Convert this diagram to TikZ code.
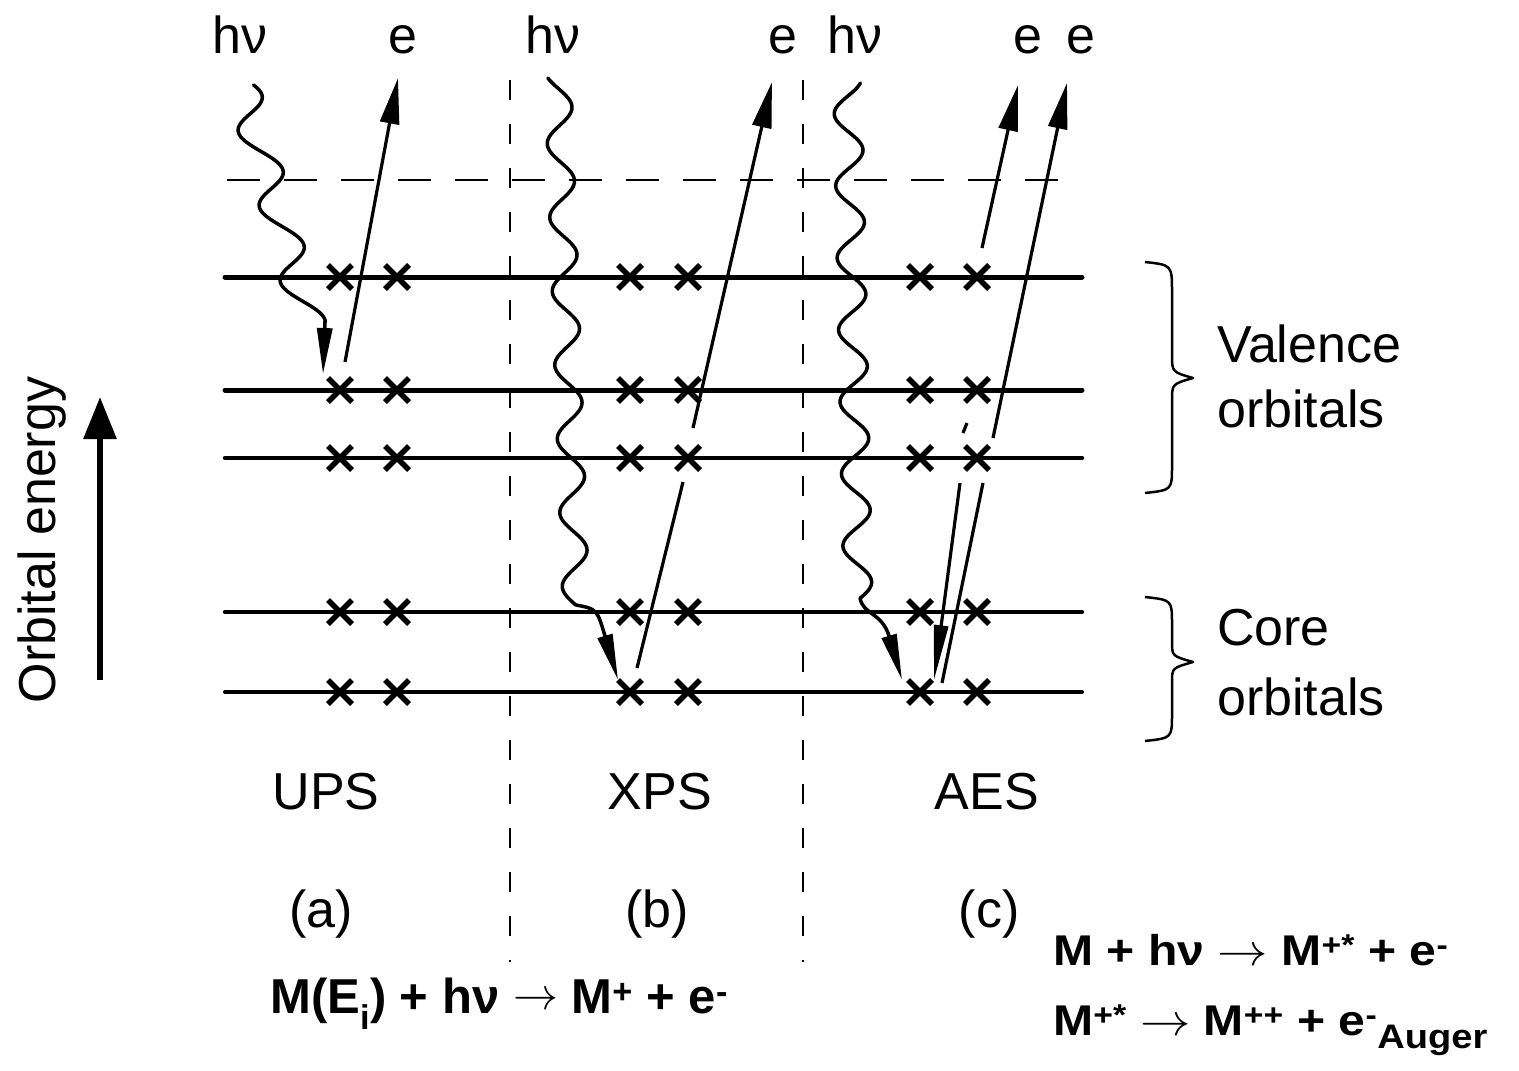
\documentclass[tikz,border=0pt]{standalone}
\usepackage{fontspec}
\setmainfont{Liberation Sans}
\usetikzlibrary{arrows.meta}
\newcommand{\myarrow}{{\fontsize{10}{12}\selectfont\scalebox{4.5}{$\rightarrow$}}}
\begin{document}
\begin{tikzpicture}[x=1pt,y=-1pt,
  lbl/.style={font=\fontsize{52}{62}\selectfont, inner sep=0pt, anchor=base},
  lblw/.style={font=\fontsize{52}{62}\selectfont, inner sep=0pt, anchor=base west},
  eqa/.style={font=\fontsize{49}{58}\selectfont\bfseries, inner sep=0pt, anchor=base west},
  eqb/.style={font=\fontsize{43}{50}\selectfont\bfseries, inner sep=0pt, anchor=base west},
  rowline/.style={line width=4.5pt, line cap=round},
  xmark/.style={line width=5.5pt},
  photon/.style={line width=3.5pt, line cap=round, line join=round},
  phtip/.style={photon, -{Triangle[length=46pt,width=15pt]}},
  elecline/.style={line width=3.2pt},
  elec/.style={line width=3.2pt, -{Triangle[length=46pt,width=19pt]}},
  downtip/.style={line width=3.2pt, -{Triangle[length=55pt,width=14pt]}},
  hdash/.style={line width=2pt, dash pattern=on 33pt off 24pt},
  vdash/.style={line width=2pt, dash pattern=on 20pt off 24pt},
  brace/.style={line width=2.5pt, line join=round}
]
\useasboundingbox (0,0) rectangle (1519,1071);

% orbital rows
\foreach \n/\y/\w in {1/277/5,2/390/5,3/458/4.5,4/612/4.5,5/692/4} {
  \coordinate (L\n) at (225,\y);
  \coordinate (R\n) at (1082,\y);
  \draw[rowline, line width=\w pt] (L\n) -- (R\n);
  \foreach \x in {340,397,630,688,920,977} {
    \draw[xmark] (\x-12,\y-12) -- (\x+12,\y+12) (\x-12,\y+12) -- (\x+12,\y-12);
  }
}

% vacuum level (dashed)
\coordinate (vacL) at (227,180);
\coordinate (vacR) at (1075,180);
\draw[hdash] (vacL) -- (vacR);

% panel separators
\coordinate (sep1t) at (510,80);  \coordinate (sep1b) at (510,962);
\coordinate (sep2t) at (803,80);  \coordinate (sep2b) at (803,962);
\draw[vdash] (sep1t) -- (sep1b);
\draw[vdash] (sep2t) -- (sep2b);

% ---------- UPS ----------
\draw[photon] plot[domain=85:322, samples=160] ({271+0.28*(\x-188)+17*cos(4.8*(\x-170))}, {\x});
\coordinate (upsW) at (325,322);
\coordinate (upsH) at (323,374);
\draw[phtip] (upsW) -- (upsH);
\coordinate (upsE0) at (345,362);
\coordinate (upsE1) at (398,78);
\draw[elec] (upsE0) -- (upsE1);

% ---------- XPS ----------
\draw[photon] plot[domain=78:605, samples=300] ({559+0.034*(\x-107)+13*cos(4.878*(\x-107))}, {\x});
\coordinate (xpsW) at (576,605);
\coordinate (xpsH) at (618,680);
\draw[phtip] (xpsW) .. controls (597,609) .. (xpsH);
\coordinate (xpsE0) at (637,668);
\coordinate (xpsEa) at (683,482);
\coordinate (xpsEb) at (693,428);
\coordinate (xpsE1) at (772,82);
\draw[elecline] (xpsE0) -- (xpsEa);
\draw[elec] (xpsEb) -- (xpsE1);

% ---------- AES ----------
\draw[photon] plot[domain=83:598, samples=300] ({849+0.02*(\x-150)+14*cos(5*(\x-150))}, {\x});
\coordinate (aesW) at (860,598);
\coordinate (aesH) at (902,680);
\draw[phtip] (aesW) .. controls (863,615) and (882,612) .. (aesH);
% Auger electron
\coordinate (augE0) at (982,248);
\coordinate (augE1) at (1018,85);
\draw[elec] (augE0) -- (augE1);
% core photoelectron
\coordinate (aesE0) at (942,683);
\coordinate (aesEa) at (983,483);
\coordinate (aesEb) at (993,438);
\coordinate (aesE1) at (1067,83);
\draw[elecline] (aesE0) -- (aesEa);
\draw[elec] (aesEb) -- (aesE1);
% valence electron falling into core hole
\coordinate (fallA) at (967,423);
\coordinate (fallB) at (963,433);
\coordinate (fallC) at (960,483);
\coordinate (fallD) at (934,680);
\draw[elecline] (fallA) -- (fallB);
\draw[downtip] (fallC) -- (fallD);

% ---------- top labels ----------
\node[lbl] (hv1) at (240,53) {hν};
\node[lbl] (e1) at (403,53) {e};
\node[lbl] (hv2) at (553,53) {hν};
\node[lbl] (e2) at (783,53) {e};
\node[lbl] (hv3) at (855,53) {hν};
\node[lbl] (e3) at (1028,53) {e};
\node[lbl] (e4) at (1081,53) {e};

% ---------- panel labels ----------
\node[lbl] (ups) at (326,809) {UPS};
\node[lbl] (xps) at (660,809) {XPS};
\node[lbl] (aes) at (987,809) {AES};
\node[lbl] (pa) at (321,927) {(a)};
\node[lbl] (pb) at (657,927) {(b)};
\node[lbl] (pc) at (989,927) {(c)};

% ---------- energy axis ----------
\coordinate (axB) at (100,680);
\coordinate (axT) at (100,397);
\draw[line width=6pt, -{Triangle[length=42pt,width=32pt]}] (axB) -- (axT);
\node[lbl, rotate=90] (oe) at (55,540) {Orbital energy};

% ---------- braces ----------
\draw[brace] (1145,262) .. controls (1172,265) .. (1172,292) -- (1172,355)
  .. controls (1172,372) .. (1193,378) .. controls (1172,384) .. (1172,401)
  -- (1172,466) .. controls (1172,490) .. (1145,493);
\draw[brace] (1145,597) .. controls (1172,600) .. (1172,624) -- (1172,642)
  .. controls (1172,656) .. (1193,662) .. controls (1172,668) .. (1172,682)
  -- (1172,714) .. controls (1172,738) .. (1145,741);
\node[lblw] (val1) at (1217,362) {Valence};
\node[lblw] (val2) at (1217,427) {orbitals};
\node[lblw] (cor1) at (1217,645) {Core};
\node[lblw] (cor2) at (1217,715) {orbitals};

% ---------- equations ----------
\node[eqa] (eq1) at (270,1013) {M(E\textsubscript{i}) + hν \raisebox{4pt}{\myarrow} M\textsuperscript{+} + e\textsuperscript{-}};
\node[eqb] (eq2) at (1053,965) {\scalebox{1.12}[1]{M + hν \myarrow\ M\textsuperscript{+*} + e\textsuperscript{-}}};
\node[eqb] (eq3) at (1053,1035) {\scalebox{1.12}[1]{M\textsuperscript{+*} \myarrow\ M\textsuperscript{++} + e\textsuperscript{-}\raisebox{-13pt}{\fontsize{34}{34}\selectfont Auger}}};
\end{tikzpicture}
\end{document}
